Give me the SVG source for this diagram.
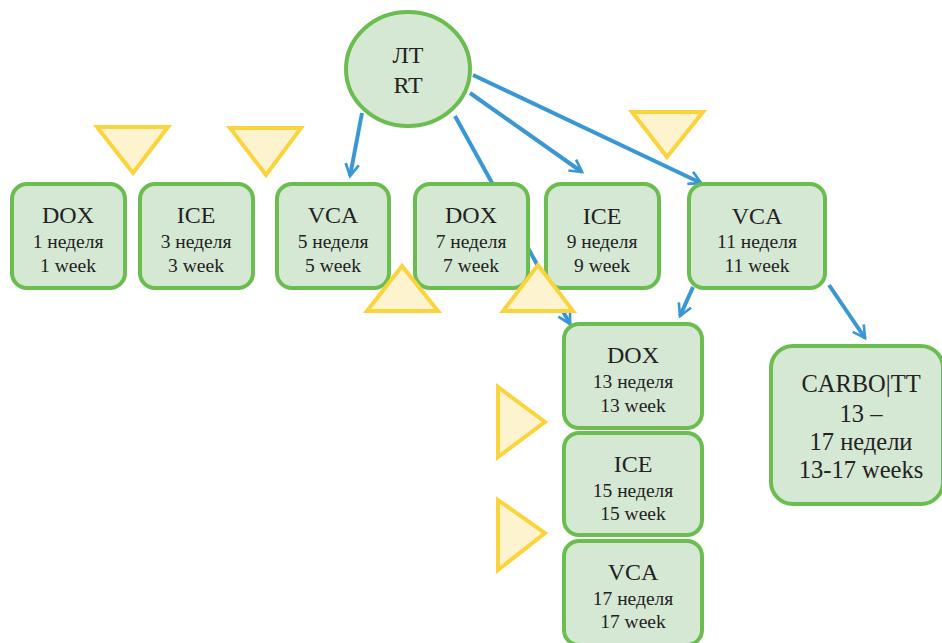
<svg xmlns="http://www.w3.org/2000/svg" width="942" height="643" viewBox="0 0 942 643">
<style>
.box{fill:#d5e8d4;stroke:#6cbd4f;stroke-width:4}
.tri{fill:#fdf4cf;stroke:#fbd43d;stroke-width:4;stroke-linejoin:miter}
.con{fill:none;stroke:#3a97d6;stroke-width:4}
.lbl{fill:#222;text-anchor:middle}
.t{font-size:24px}
.s{font-size:19.5px}
.c{font-size:24.5px}
</style>
<defs>
<marker id="ah" viewBox="0 0 12 12" refX="10" refY="6" markerWidth="16" markerHeight="16" markerUnits="userSpaceOnUse" orient="auto">
<path d="M1,1 L10,6 L1,11" fill="none" stroke="#3a97d6" stroke-width="2"/>
</marker>
</defs>
<g id="connectors">
<line class="con" x1="362" y1="113" x2="350" y2="176" marker-end="url(#ah)"/>
<line class="con" x1="455" y1="116" x2="570" y2="324" marker-end="url(#ah)"/>
<line class="con" x1="470" y1="93" x2="582" y2="172" marker-end="url(#ah)"/>
<line class="con" x1="473" y1="75" x2="701" y2="183" marker-end="url(#ah)"/>
<line class="con" x1="693" y1="287" x2="680" y2="316" marker-end="url(#ah)"/>
<line class="con" x1="829" y1="285" x2="865" y2="338" marker-end="url(#ah)"/>
</g>
<g class="lbl" font-family="Liberation Serif, DejaVu Serif, serif">
<g id="rt">
<ellipse cx="408" cy="69" rx="62" ry="57" class="box"/>
<text class="t" x="408" y="63">ЛТ</text>
<text class="t" x="408" y="93">RT</text>
</g>
<g id="dox1">
<rect class="box" x="12" y="184" width="113" height="104" rx="15"/>
<text class="t" x="68" y="223">DOX</text>
<text class="s" x="68" y="248">1 неделя</text>
<text class="s" x="68" y="272">1 week</text>
</g>
<g id="ice3">
<rect class="box" x="140" y="184" width="113" height="104" rx="15"/>
<text class="t" x="196" y="223">ICE</text>
<text class="s" x="196" y="248">3 неделя</text>
<text class="s" x="196" y="272">3 week</text>
</g>
<g id="vca5">
<rect class="box" x="277" y="184" width="112" height="104" rx="15"/>
<text class="t" x="333" y="223">VCA</text>
<text class="s" x="333" y="248">5 неделя</text>
<text class="s" x="333" y="272">5 week</text>
</g>
<g id="dox7">
<rect class="box" x="415" y="184" width="113" height="104" rx="15"/>
<text class="t" x="471" y="223">DOX</text>
<text class="s" x="471" y="248">7 неделя</text>
<text class="s" x="471" y="272">7 week</text>
</g>
<g id="ice9">
<rect class="box" x="546" y="184" width="113" height="104" rx="15"/>
<text class="t" x="602" y="224">ICE</text>
<text class="s" x="602" y="248">9 неделя</text>
<text class="s" x="602" y="272">9 week</text>
</g>
<g id="vca11">
<rect class="box" x="689" y="184" width="136" height="104" rx="15"/>
<text class="t" x="757" y="224">VCA</text>
<text class="s" x="757" y="248">11 неделя</text>
<text class="s" x="757" y="272">11 week</text>
</g>
<g id="dox13">
<rect class="box" x="564" y="324" width="138" height="104" rx="15"/>
<text class="t" x="633" y="363">DOX</text>
<text class="s" x="633" y="388">13 неделя</text>
<text class="s" x="633" y="412">13 week</text>
</g>
<g id="ice15">
<rect class="box" x="564" y="433" width="138" height="102" rx="15"/>
<text class="t" x="633" y="472">ICE</text>
<text class="s" x="633" y="497">15 неделя</text>
<text class="s" x="633" y="520">15 week</text>
</g>
<g id="vca17">
<rect class="box" x="564" y="541" width="138" height="104" rx="15"/>
<text class="t" x="633" y="580">VCA</text>
<text class="s" x="633" y="605">17 неделя</text>
<text class="s" x="633" y="628">17 week</text>
</g>
<g id="carbo">
<rect class="box" x="771" y="346" width="172" height="158" rx="22"/>
<text class="c" x="861" y="392">CARBO|TT</text>
<text class="c" x="861" y="422">13 –</text>
<text class="c" x="861" y="450">17 недели</text>
<text class="c" x="861" y="478">13-17 weeks</text>
</g>
</g>
<g id="markers">
<polygon class="tri" points="97,127 168,127 133,173"/>
<polygon class="tri" points="230,128 301,128 266,175"/>
<polygon class="tri" points="632,112 703,112 667,157"/>
<polygon class="tri" points="367,311 438,311 402,266"/>
<polygon class="tri" points="503,311 573,311 538,265"/>
<polygon class="tri" points="498,387 498,457 545,422"/>
<polygon class="tri" points="498,500 498,570 545,533"/>
</g>
</svg>
